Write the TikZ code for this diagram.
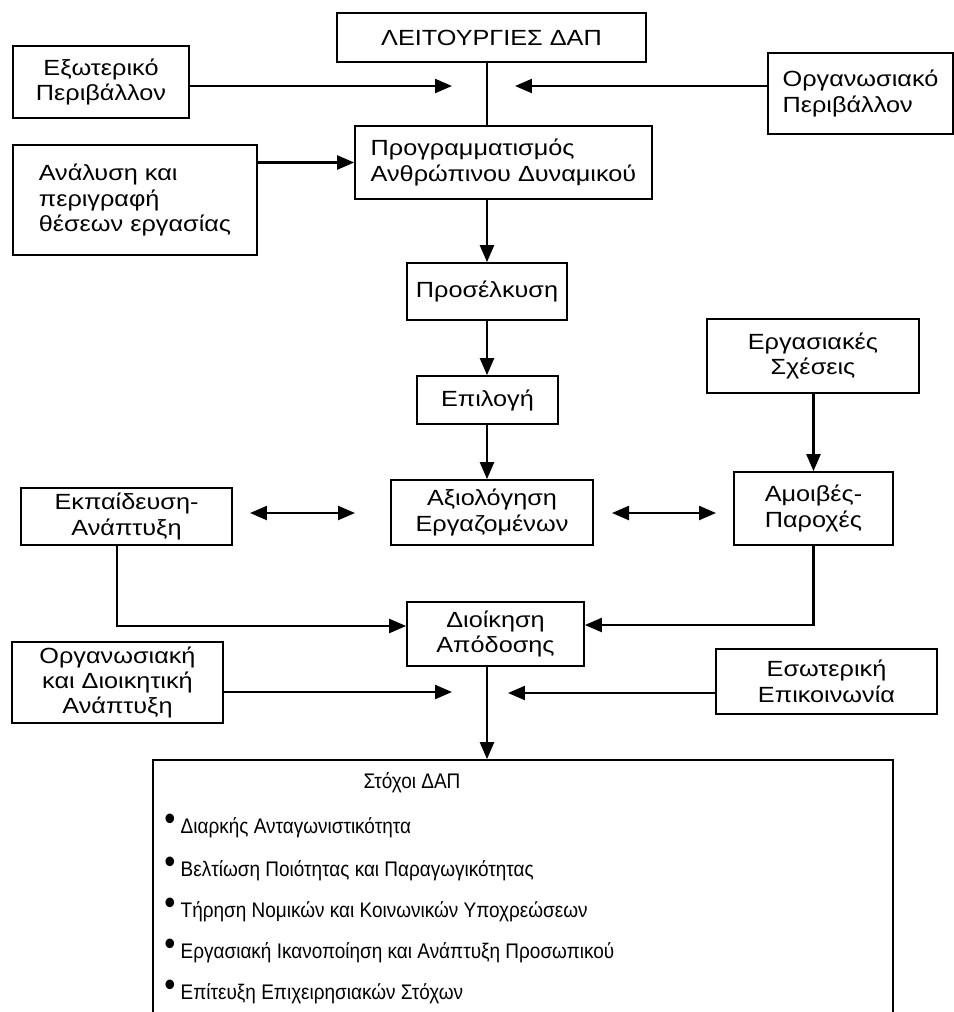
\documentclass[tikz,border=0pt]{standalone}
\usepackage{fontspec}
\setmainfont{Liberation Sans}[FakeStretch=1.15]
\newfontfamily\listfont{Liberation Sans}[FakeStretch=0.9]
\usetikzlibrary{arrows.meta}

\begin{document}
\begin{tikzpicture}[x=0.02cm, y=-0.02cm,
    box/.style={draw, line width=1pt, inner sep=1pt, font=\fontsize{12.5}{14.5}\selectfont},
    arr/.style={line width=1.3pt, -{Triangle[length=3.4mm, width=2.8mm]}},
    darr/.style={line width=1.3pt, {Triangle[length=3.4mm, width=2.8mm]}-{Triangle[length=3.4mm, width=2.8mm]}},
    goal/.style={anchor=base west, inner sep=0pt, font=\listfont\fontsize{12}{14}\selectfont,
        execute at begin node={\raisebox{1.5pt}{\fontsize{20}{20}\selectfont\textbullet}\hspace{3pt}}}]
    \clip (0,0) rectangle (954,1012);

    \node[box, minimum width=6.18cm, minimum height=0.98cm] (lei) at (491.5,37.5) {ΛΕΙΤΟΥΡΓΙΕΣ ΔΑΠ};
    \node[box, align=center, minimum width=3.52cm, minimum height=1.44cm] (ext) at (101,82) {Εξωτερικό\\Περιβάλλον};
    \node[box, align=left, minimum width=3.70cm, minimum height=1.62cm] (org) at (860.5,93.5) {Οργανωσιακό\\Περιβάλλον};
    \node[box, align=left, minimum width=4.88cm, minimum height=2.2cm] (ana) at (135,200) {Ανάλυση και\\περιγραφή\\θέσεων εργασίας};
    \node[box, align=left, minimum width=5.94cm, minimum height=1.46cm] (prog) at (503.5,162.5) {Προγραμματισμός\\Ανθρώπινου Δυναμικού};
    \node[box, minimum width=3.2cm, minimum height=1.14cm] (att) at (487,291.5) {Προσέλκυση};
    \node[box, minimum width=2.82cm, minimum height=0.96cm] (sel) at (487.5,400) {Επιλογή};
    \node[box, align=center, minimum width=4.04cm, minimum height=1.3cm] (eval) at (492,512.5) {Αξιολόγηση\\Εργαζομένων};
    \node[box, align=center, minimum width=4.22cm, minimum height=1.14cm] (train) at (126.5,516.5) {Εκπαίδευση-\\Ανάπτυξη};
    \node[box, align=center, minimum width=4.24cm, minimum height=1.48cm] (rel) at (813,356) {Εργασιακές\\Σχέσεις};
    \node[box, align=center, minimum width=3.18cm, minimum height=1.46cm] (pay) at (813.5,508.5) {Αμοιβές-\\Παροχές};
    \node[box, align=center, minimum width=3.54cm, minimum height=1.28cm] (perf) at (495.5,634) {Διοίκηση\\Απόδοσης};
    \node[box, align=center, minimum width=4.22cm, minimum height=1.62cm] (dev) at (117.5,682.5) {Οργανωσιακή\\και Διοικητική\\Ανάπτυξη};
    \node[box, align=center, minimum width=4.42cm, minimum height=1.3cm] (comm) at (826.5,681.5) {Εσωτερική\\Επικοινωνία};
    \node[box, minimum width=14.8cm, minimum height=5.4cm] (goals) at (523,895) {};

    % goals of the department
    \node[anchor=base, inner sep=0pt, font=\listfont\fontsize{12}{14}\selectfont] (gtitle) at (412,788) {Στόχοι ΔΑΠ};
    \node[goal] (g1) at (164,833) {Διαρκής Ανταγωνιστικότητα};
    \node[goal] (g2) at (164,876) {Βελτίωση Ποιότητας και Παραγωγικότητας};
    \node[goal] (g3) at (164,917) {Τήρηση Νομικών και Κοινωνικών Υποχρεώσεων};
    \node[goal] (g4) at (164,958) {Εργασιακή Ικανοποίηση και Ανάπτυξη Προσωπικού};
    \node[goal] (g5) at (164,999) {Επίτευξη Επιχειρησιακών Στόχων};

    \coordinate (spine) at (487,0);
    \coordinate (extin) at (452,86);
    \coordinate (orgin) at (515,86);
    \coordinate (devin) at (452,692);
    \coordinate (commin) at (508,693);
    \coordinate (trainr) at (250,513);
    \coordinate (evall) at (355,513);
    \coordinate (evalr) at (612,513);
    \coordinate (payl) at (716,513);

    \draw[line width=1.3pt] (lei.south -| spine) -- (prog.north -| spine);
    \draw[arr] (ext.east |- extin) -- (extin);
    \draw[arr] (org.west |- orgin) -- (orgin);
    \draw[arr] (ana.east |- prog.west) -- (prog.west);
    \draw[arr] (prog.south -| spine) -- (att.north -| spine);
    \draw[arr] (att.south -| spine) -- (sel.north -| spine);
    \draw[arr] (sel.south -| spine) -- (eval.north -| spine);
    \draw[darr] (trainr) -- (evall);
    \draw[darr] (evalr) -- (payl);
    \draw[arr] (rel.south -| pay) -- (pay.north);

    % side inputs into performance management
    \draw[arr] ([xshift=-0.19cm]train.south) |- ([yshift=0.16cm]perf.west);
    \draw[arr] (pay.south) |- ([yshift=0.18cm]perf.east);

    \draw[arr] (perf.south -| spine) -- (goals.north -| spine);
    \draw[arr] (dev.east |- devin) -- (devin);
    \draw[arr] (comm.west |- commin) -- (commin);
\end{tikzpicture}
\end{document}
